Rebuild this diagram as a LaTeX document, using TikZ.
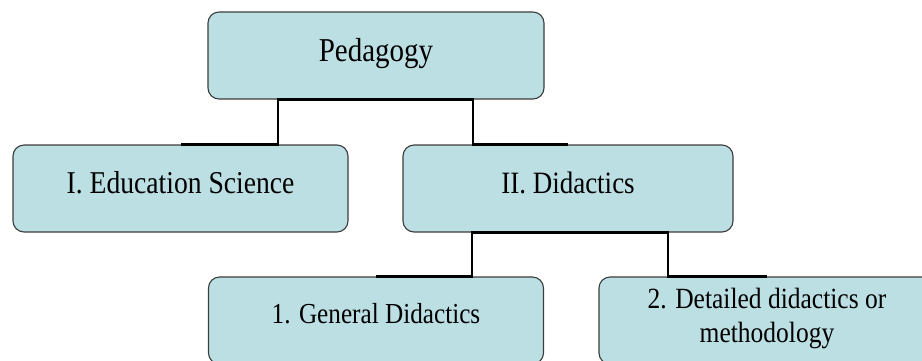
\documentclass[tikz,border=0pt]{standalone}
\usepackage{fontspec}
\setmainfont{Liberation Serif}
\definecolor{boxfill}{RGB}{188,223,227}
\definecolor{boxline}{RGB}{60,60,60}
% the text in the boxes is a little taller than wide
\newcommand{\tall}[1]{\scalebox{1}[1.15]{#1}}
\tikzset{
  box/.style={rectangle, rounded corners=11pt, draw=boxline, line width=1.1pt,
    fill=boxfill, minimum width=336pt, minimum height=87pt, align=center,
    inner sep=2pt, text depth=12pt},
  link/.style={line width=2.8pt, black}
}
\begin{document}
\begin{tikzpicture}[x=1pt, y=-1pt]
    \useasboundingbox (0, 0) rectangle (922, 360);
    \clip (0, 0) rectangle (922, 360);
    \node (ped) at (376, 55.5) [box, font=\fontsize{29}{34}\selectfont] {\tall{Pedagogy}};
    \node (edu) at (180.5, 188.5) [box, minimum width=335pt, font=\fontsize{27.6}{34}\selectfont] {\tall{I. Education Science}};
    \node (did) at (568, 188.5) [box, minimum width=330pt, font=\fontsize{27}{34}\selectfont] {\tall{II. Didactics}};
    \node (gen) at (376, 320.5) [box, minimum width=335pt, text depth=15pt, font=\fontsize{25.2}{34}\selectfont] {\tall{1. General Didactics}};
    \node (det) at (767, 320.5) [box, text depth=14pt, font=\fontsize{25.5}{29.5}\selectfont]
      {\tall{\begin{tabular}[b]{@{}c@{}}2. Detailed didactics or\\methodology\end{tabular}}};
    \coordinate (j1) at (278, 121);
    \coordinate (j2) at (473, 121);
    \coordinate (j3) at (472, 254);
    \coordinate (j4) at (668, 254);
    \draw[link] (ped.south) -| (j1) |- (edu.north);
    \draw[link] (ped.south) -| (j2) |- (did.north);
    \draw[link] (did.south) -| (j3) |- (gen.north);
    \draw[link] (did.south) -| (j4) |- (det.north);
  \end{tikzpicture}
\end{document}
